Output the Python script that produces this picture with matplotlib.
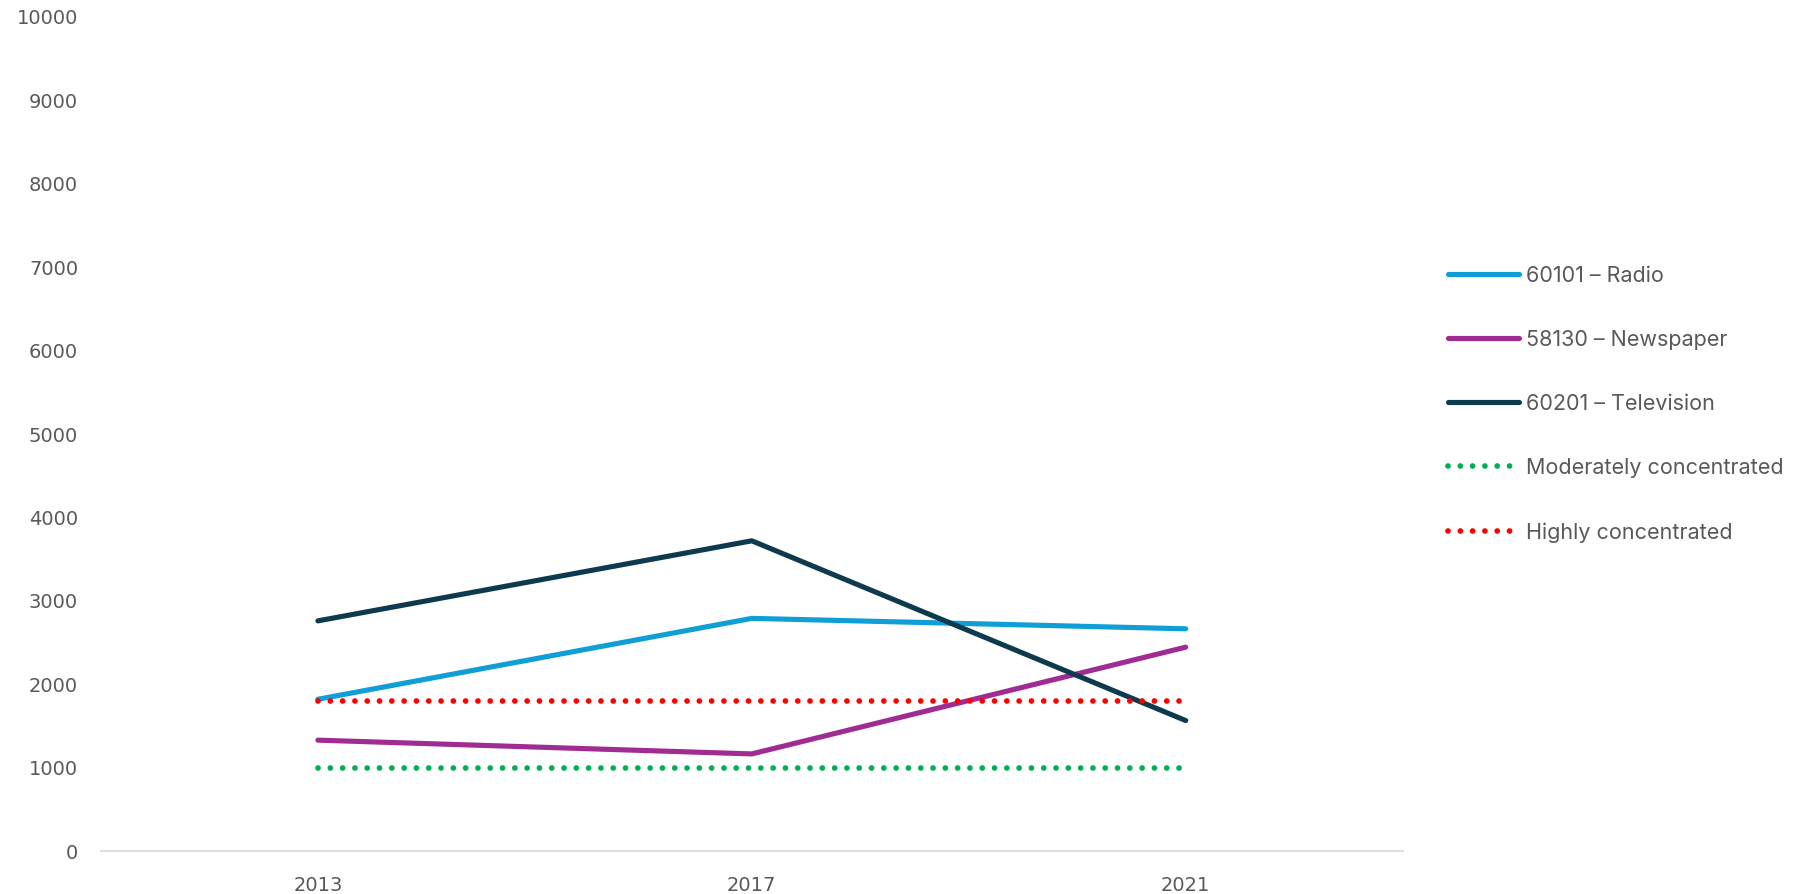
import matplotlib
matplotlib.use("Agg")
import matplotlib.pyplot as plt

years = ["2013", "2017", "2021"]
radio = [1820, 2790, 2665]
newspaper = [1330, 1165, 2445]
television = [2760, 3720, 1565]
moderately = [1000, 1000, 1000]
highly = [1800, 1800, 1800]
y_ticks = [0, 1000, 2000, 3000, 4000, 5000, 6000, 7000, 8000, 9000, 10000]

plt.rcParams['font.family'] = ['Inter', 'DejaVu Sans']

fig = plt.figure(figsize=(17.96, 8.94), dpi=100)
ax = fig.add_axes([0.0562, 0.048, 0.7248, 0.933])

x = list(range(len(years)))
lw = 3.7
dot_lw = 4.1
ax.plot(x, radio, color="#0F9ED5", lw=lw, solid_capstyle="round", label="60101 \u2013 Radio")
ax.plot(x, newspaper, color="#A02B93", lw=lw, solid_capstyle="round", label="58130 \u2013 Newspaper")
ax.plot(x, television, color="#0E3A4E", lw=lw, solid_capstyle="round", label="60201 \u2013 Television")
ax.plot(x, moderately, color="#00B050", lw=dot_lw, linestyle=(0, (0.01, 2.15)),
        dash_capstyle="round", label="Moderately concentrated")
ax.plot(x, highly, color="#FF0000", lw=dot_lw, linestyle=(0, (0.01, 2.15)),
        dash_capstyle="round", label="Highly concentrated")

ax.set_xlim(-0.5, 2.5)
ax.set_ylim(0, 10000)
ax.set_xticks(x)
ax.set_xticklabels(years)
ax.set_yticks(y_ticks)
ax.tick_params(axis="both", length=0, labelsize=14, labelcolor="#595959",
               labelfontfamily="DejaVu Sans")
ax.tick_params(axis="y", pad=16.5)
ax.tick_params(axis="x", pad=18)
for s in ["top", "right", "left"]:
    ax.spines[s].set_visible(False)
ax.spines["bottom"].set_color("#D9D9D9")
ax.spines["bottom"].set_linewidth(1.2)

leg = fig.legend(loc="center left", bbox_to_anchor=(0.806, 0.548), frameon=False,
                 fontsize=15.5, handlelength=3.3, handletextpad=0.33,
                 labelspacing=2.05, borderpad=0, borderaxespad=0)
for t in leg.get_texts():
    t.set_color("#595959")

fig.savefig("out.png", dpi=100)
